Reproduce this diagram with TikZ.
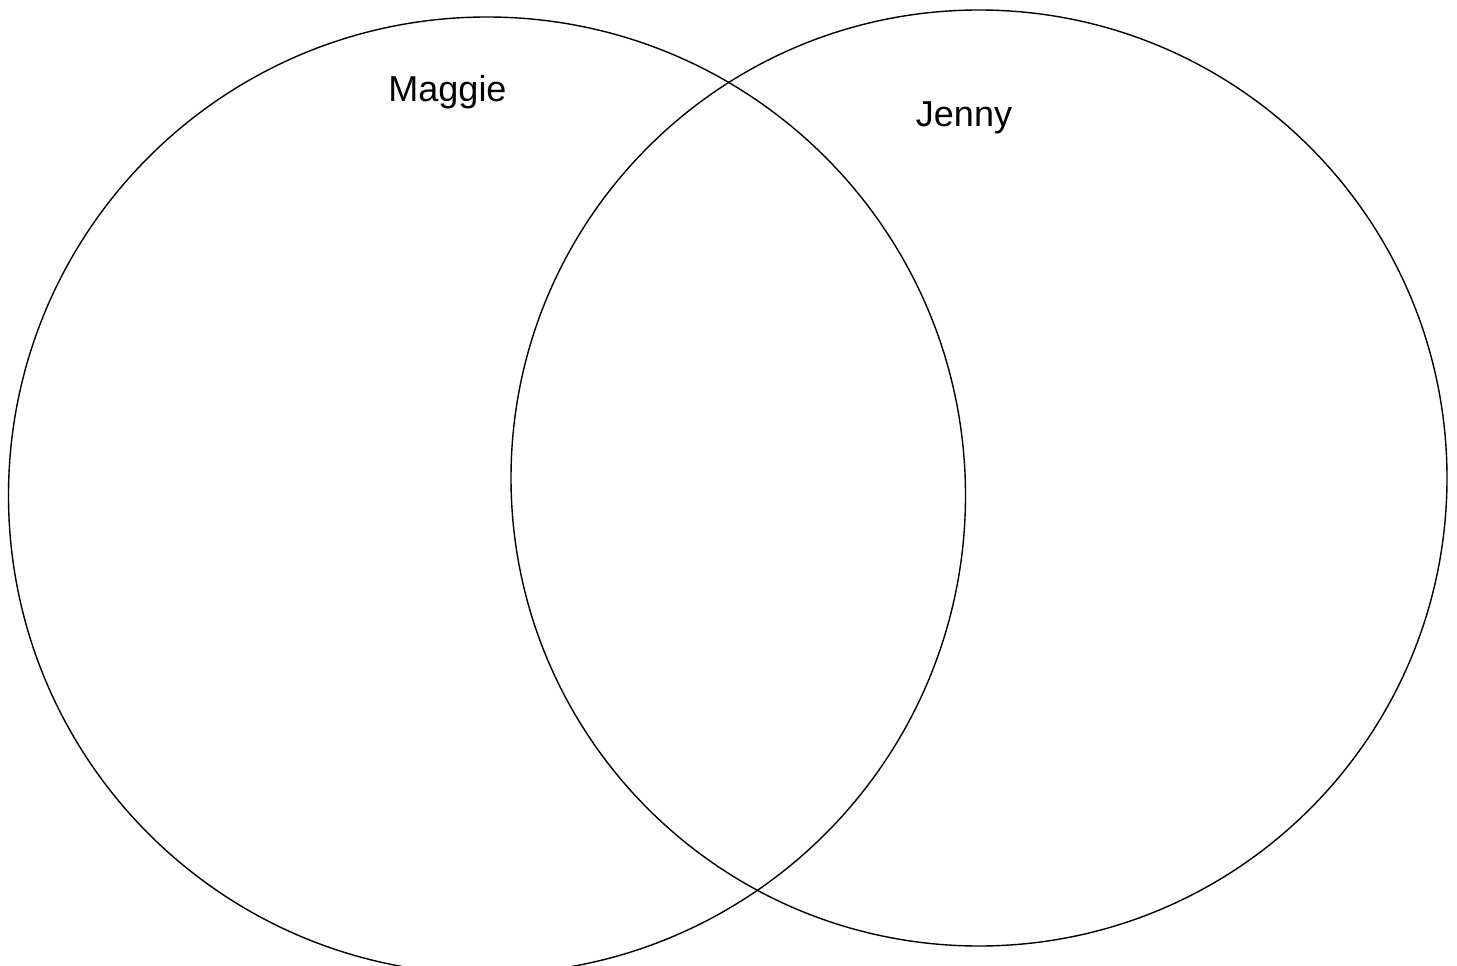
\documentclass[tikz,border=0pt]{standalone}
\usepackage{fontspec}
\setmainfont{Liberation Sans}
\usepackage{tikz}
\usetikzlibrary{positioning}

\begin{document}
\begin{tikzpicture}[
  x=1pt, y=-1pt,
  set/.style={draw, line width=1.4pt},
  lbl/.style={font=\fontsize{36}{40}\selectfont, anchor=base, inner sep=0pt}
]
  % Frame
  \useasboundingbox (0,0) rectangle (1457,966);
  \clip (0,0) rectangle (1457,966);

  % Sets
  \coordinate (maggieC) at (487,495.5);
  \coordinate (jennyC) at (979,478);
  \draw[set] (maggieC) circle[radius=478.5];
  \draw[set] (jennyC) circle[radius=468];

  % Labels
  \node[lbl] (maggie) at (447.5,102) {Maggie};
  \node[lbl] (jenny) at (964,126.5) {Jenny};
\end{tikzpicture}
\end{document}
